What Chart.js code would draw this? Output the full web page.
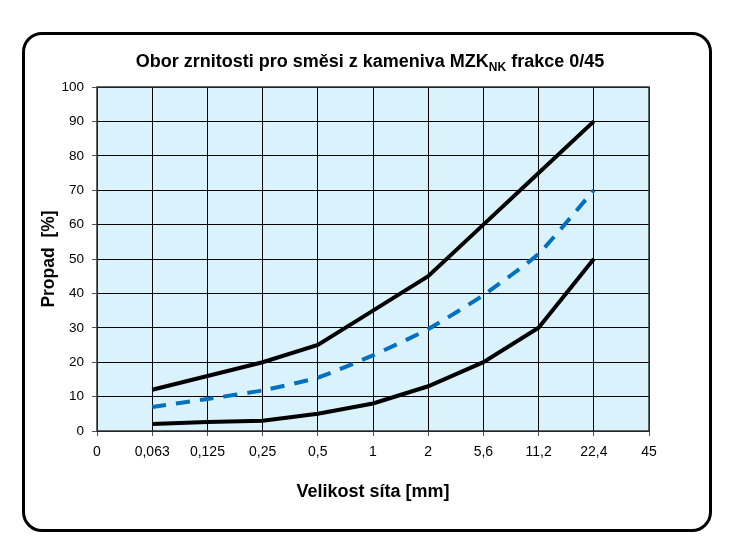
<!DOCTYPE html>
<html>
<head>
<meta charset="utf-8">
<script src="https://cdn.jsdelivr.net/npm/chart.js@4/dist/chart.umd.min.js"></script>
<style>
    html, body { margin: 0; padding: 0; background: #fff; }
    #wrap { position: relative; width: 749px; height: 548px; }
    #frame {
        position: absolute; left: 22px; top: 32px;
        width: 684px; height: 494px;
        border: 3px solid #000; border-radius: 20px;
    }
    #chart { position: absolute; left: 0; top: 0; }
</style>
</head>
<body>
<div id="wrap">
    <div id="frame"></div>
    <canvas id="chart" width="749" height="548"></canvas>
</div>
<script>
// Sieve sizes (mm) shown as categories
const sieves = ["0", "0,063", "0,125", "0,25", "0,5", "1", "2", "5,6", "11,2", "22,4", "45"];

// Grading envelope (%) – null where the curve is not drawn
const upperLimit = [null, 12, 16, 20, 25, 35, 45, 60, 75, 90, null];
const lowerLimit = [null, 2, 2.6, 3, 5, 8, 13, 20, 30, 50, null];
const idealCurve = [null, 7, 9.3, 11.8, 15.5, 22, 29.6, 39.5, 51.5, 70, null];

const yTicks = [0, 10, 20, 30, 40, 50, 60, 70, 80, 90, 100];

const FONT = "'Liberation Sans', Arial, sans-serif";

// ✅ Plot background + frame of the plot area
const plotBackground = {
    id: "plotBackground",
    beforeDraw(chart) {
        const { ctx, chartArea: a } = chart;
        ctx.save();
        ctx.fillStyle = "#d9f2fb";
        ctx.fillRect(a.left, a.top, a.right - a.left, a.bottom - a.top);
        ctx.restore();
    },
    afterDatasetsDraw(chart) {
        const { ctx, chartArea: a } = chart;
        ctx.save();
        ctx.strokeStyle = "#333";
        ctx.lineWidth = 1.5;
        ctx.strokeRect(a.left, a.top, a.right - a.left, a.bottom - a.top);
        ctx.restore();
    }
};

// ✅ Title with subscript "NK"
const subTitle = {
    id: "subTitle",
    afterDraw(chart) {
        const ctx = chart.ctx;
        const parts = [
            { t: "Obor zrnitosti pro směsi z kameniva MZK", size: 18, dy: 0 },
            { t: "NK", size: 12, dy: 6 },
            { t: " frakce 0/45", size: 18, dy: 0 }
        ];
        ctx.save();
        ctx.fillStyle = "#000";
        ctx.textBaseline = "middle";
        let total = 0;
        parts.forEach(p => {
            ctx.font = "bold " + p.size + "px " + FONT;
            p.w = ctx.measureText(p.t).width;
            total += p.w;
        });
        let x = 370 - total / 2;
        parts.forEach(p => {
            ctx.font = "bold " + p.size + "px " + FONT;
            ctx.fillText(p.t, x, 62 + p.dy);
            x += p.w;
        });
        ctx.restore();
    }
};

const ctx = document.getElementById("chart").getContext("2d");

new Chart(ctx, {
    type: "line",
    data: {
        labels: sieves,
        datasets: [
            {
                label: "Horní mez",
                data: upperLimit,
                borderColor: "#000",
                borderWidth: 4,
                pointRadius: 0,
                tension: 0
            },
            {
                label: "Dolní mez",
                data: lowerLimit,
                borderColor: "#000",
                borderWidth: 4,
                pointRadius: 0,
                tension: 0
            },
            {
                label: "Střed",
                data: idealCurve,
                borderColor: "#0070c0",
                borderWidth: 4,
                borderDash: [14, 10],
                pointRadius: 0,
                tension: 0.15
            }
        ]
    },
    options: {
        responsive: false,
        animation: false,
        layout: { padding: { left: 38, right: 100, top: 87, bottom: 0 } },
        plugins: {
            legend: { display: false },
            title: { display: false },
            tooltip: { enabled: false }
        },
        scales: {
            x: {
                offset: false,
                afterFit: scale => { scale.height = 117; },
                grid: { color: "#000", lineWidth: 1, tickLength: 5, tickColor: "#555" },
                border: { display: false },
                ticks: {
                    padding: 7.6,
                    maxRotation: 0,
                    autoSkip: false,
                    color: "#000",
                    font: { family: FONT, size: 14 }
                },
                title: {
                    display: true,
                    text: "Velikost síta [mm]",
                    color: "#000",
                    font: { family: FONT, size: 18, weight: "bold" },
                    padding: { top: 0, bottom: 45 }
                }
            },
            y: {
                min: 0,
                max: 100,
                afterBuildTicks: scale => { scale.ticks = yTicks.map(v => ({ value: v })); },
                afterFit: scale => { scale.width = 59; },
                grid: { color: "#000", lineWidth: 1, tickLength: 5, tickColor: "#555" },
                border: { display: false },
                ticks: {
                    padding: 8,
                    color: "#000",
                    font: { family: FONT, size: 13.5 }
                },
                title: {
                    display: true,
                    text: "Propad  [%]",
                    color: "#000",
                    font: { family: FONT, size: 17.5, weight: "bold" },
                    padding: { top: 1, bottom: 0 }
                }
            }
        }
    },
    plugins: [plotBackground, subTitle]
});
</script>
</body>
</html>
